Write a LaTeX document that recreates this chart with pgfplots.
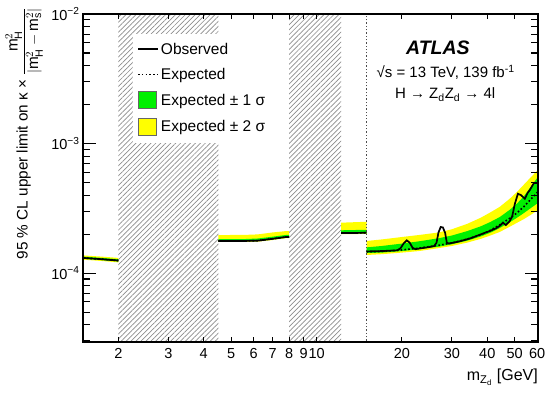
\documentclass[border=0pt]{standalone}
\usepackage{fontspec}
\setmainfont{Liberation Sans}
\usepackage{amsmath}
\usepackage{pgfplots}
\pgfplotsset{compat=1.18}
\usepackage{pgfplotstable}
\usepgfplotslibrary{fillbetween}
\usetikzlibrary{patterns.meta}

\definecolor{rgreen}{RGB}{0,240,0}
\definecolor{ryellow}{RGB}{255,255,0}

\pgfplotsset{
  mylinelegend/.style={legend image code/.code={\draw[##1] (0pt,0pt) -- (20pt,0pt);}},
  myboxlegend/.style={legend image code/.code={\draw[##1] (0pt,-8.5pt) rectangle (18pt,8.5pt);}},
}

\pgfplotstableread{
x lo2 lo1 exp hi1 hi2
1.5 1.27e-4 1.29e-4 1.31e-4 1.34e-4 1.37e-4
1.75 1.24e-4 1.26e-4 1.28e-4 1.31e-4 1.34e-4
2.0 1.21e-4 1.23e-4 1.25e-4 1.28e-4 1.31e-4
}\segA

\pgfplotstableread{
x lo2 lo1 exp hi1 hi2
4.5 1.74e-4 1.76e-4 1.77e-4 1.83e-4 1.96e-4
5.0 1.74e-4 1.76e-4 1.77e-4 1.83e-4 1.97e-4
5.5 1.74e-4 1.76e-4 1.77e-4 1.83e-4 1.97e-4
6.2 1.75e-4 1.77e-4 1.78e-4 1.85e-4 1.99e-4
7.0 1.80e-4 1.82e-4 1.84e-4 1.91e-4 2.06e-4
7.8 1.86e-4 1.88e-4 1.90e-4 1.97e-4 2.11e-4
8.0 1.86e-4 1.88e-4 1.90e-4 1.97e-4 2.11e-4
}\segB

\pgfplotstableread{
x lo2 lo1 exp hi1 hi2
12.2 2.00e-4 2.02e-4 2.04e-4 2.14e-4 2.45e-4
13.5 2.00e-4 2.02e-4 2.04e-4 2.15e-4 2.47e-4
15.0 2.01e-4 2.03e-4 2.05e-4 2.16e-4 2.49e-4
}\segC

\pgfplotstableread{
x lo2 lo1 exp hi1 hi2
15.0 1.38e-4 1.43e-4 1.46e-4 1.58e-4 1.77e-4
17.0 1.40e-4 1.44e-4 1.47e-4 1.62e-4 1.82e-4
20.0 1.44e-4 1.48e-4 1.51e-4 1.69e-4 1.90e-4
23.0 1.48e-4 1.53e-4 1.56e-4 1.76e-4 1.97e-4
27.0 1.56e-4 1.60e-4 1.64e-4 1.86e-4 2.06e-4
30.0 1.62e-4 1.67e-4 1.71e-4 1.95e-4 2.18e-4
34.0 1.72e-4 1.78e-4 1.83e-4 2.11e-4 2.40e-4
38.0 1.84e-4 1.92e-4 1.98e-4 2.30e-4 2.68e-4
41.0 1.95e-4 2.05e-4 2.14e-4 2.48e-4 2.94e-4
44.3 2.08e-4 2.23e-4 2.36e-4 2.71e-4 3.25e-4
48.0 2.28e-4 2.47e-4 2.65e-4 3.08e-4 3.75e-4
51.0 2.45e-4 2.68e-4 2.92e-4 3.45e-4 4.25e-4
54.0 2.62e-4 2.92e-4 3.28e-4 3.95e-4 4.85e-4
57.0 2.82e-4 3.18e-4 3.72e-4 4.65e-4 5.50e-4
60.4 3.07e-4 3.48e-4 4.24e-4 5.53e-4 6.26e-4
}\segD

\pgfplotstableread{
x obs
15.0 1.47e-4
17.0 1.48e-4
19.3 1.50e-4
19.8 1.56e-4
20.3 1.70e-4
20.8 1.79e-4
21.3 1.72e-4
21.8 1.57e-4
22.3 1.53e-4
25.0 1.59e-4
26.0 1.62e-4
26.5 1.72e-4
26.9 2.05e-4
27.4 2.27e-4
27.9 2.25e-4
28.4 2.05e-4
28.8 1.72e-4
29.3 1.69e-4
32.0 1.76e-4
35.0 1.86e-4
38.6 2.02e-4
41.0 2.12e-4
43.0 2.22e-4
44.3 2.32e-4
45.4 2.45e-4
46.5 2.35e-4
48.0 2.52e-4
49.0 2.75e-4
50.0 3.40e-4
51.3 4.10e-4
52.6 4.00e-4
54.3 3.75e-4
55.5 4.15e-4
56.6 4.40e-4
58.4 4.95e-4
60.4 4.95e-4
}\obsD

\tikzset{
  obsstyle/.style={black, line width=1.7pt},
  expstyle/.style={black, line width=1.6pt, dash pattern=on 1.6pt off 2.2pt},
}

\newcommand\drawbands[2]{%
  \addplot[draw=none, name path=#2lotwo, forget plot] table[x=x,y=lo2]{#1};
  \addplot[draw=none, name path=#2hitwo, forget plot] table[x=x,y=hi2]{#1};
  \addplot[draw=none, name path=#2loone, forget plot] table[x=x,y=lo1]{#1};
  \addplot[draw=none, name path=#2hione, forget plot] table[x=x,y=hi1]{#1};
  \addplot[fill=ryellow, draw=none, forget plot] fill between[of=#2lotwo and #2hitwo];
  \addplot[fill=rgreen, draw=none, forget plot] fill between[of=#2loone and #2hione];
}

\begin{document}
\begin{tikzpicture}
\begin{loglogaxis}[
  name=ax,
  scale only axis,
  width=455pt, height=328pt,
  xmin=1.5, xmax=60.4,
  ymin=2.94e-5, ymax=1e-2,
  axis on top,
  axis line style={line width=1.5pt},
  tick style={black, line width=1.1pt},
  major tick length=13pt,
  minor tick length=7pt,
  xtick style={/pgfplots/major tick length=5.5pt},
  xtick={2,3,4,5,6,7,8,9,20,30,40,50,60},
  xticklabels={2,3,4,5,6,7,8,9,20,30,40,50,60},
  extra x ticks={10},
  extra x tick labels={10},
  extra x tick style={/pgfplots/major tick length=11pt},
  minor xtick={},
  ytick={1e-4,1e-3,1e-2},
  yticklabels={10\textsuperscript{−4},10\textsuperscript{−3},10\textsuperscript{−2}},
  minor ytick={3e-5,4e-5,5e-5,6e-5,7e-5,8e-5,9e-5,2e-4,3e-4,4e-4,5e-4,6e-4,7e-4,8e-4,9e-4,2e-3,3e-3,4e-3,5e-3,6e-3,7e-3,8e-3,9e-3},
  tick label style={font=\fontsize{14.5}{16}\selectfont},
  xticklabel style={yshift=-3pt},
  xlabel={m\textsubscript{Z\textsubscript{d}} [GeV]},
  every axis x label/.style={at={(rel axis cs:1,0)}, anchor=north east, inner sep=0pt, yshift=-27pt, font=\fontsize{16}{18}\selectfont},
  ylabel={95 \% CL upper limit on κ × $\dfrac{\text{m}^{2}_{\text{H}}}{|\text{m}^{2}_{\text{H}} - \text{m}^{2}_{\text{s}}|}$},
  every axis y label/.style={at={(rel axis cs:0,0.636)}, xshift=-40pt, rotate=90, anchor=south, inner sep=0pt, font=\fontsize{15.3}{17}\selectfont},
  legend style={at={(rel axis cs:0.11,0.94)}, anchor=north west, draw=none, fill=white,
    font=\fontsize{15.5}{18}\selectfont, row sep=8.5pt, inner xsep=4pt, inner ysep=7pt},
  legend cell align=left,
]
% hatched excluded regions
\addplot[draw=none, pattern={Lines[angle=45,distance=3.5pt,line width=0.7pt]}, pattern color=black!45, forget plot]
  coordinates {(2,2e-5) (4.5,2e-5) (4.5,2e-2) (2,2e-2)} -- cycle;
\addplot[draw=none, pattern={Lines[angle=45,distance=3.5pt,line width=0.7pt]}, pattern color=black!45, forget plot]
  coordinates {(8,2e-5) (12.2,2e-5) (12.2,2e-2) (8,2e-2)} -- cycle;

\drawbands{\segA}{A}
\drawbands{\segB}{B}
\drawbands{\segC}{C}
\drawbands{\segD}{D}

% observed
\addplot[obsstyle, forget plot] table[x=x,y=exp]{\segA};
\addplot[obsstyle, forget plot] table[x=x,y=exp]{\segB};
\addplot[obsstyle, forget plot] table[x=x,y=exp]{\segC};
\addplot[obsstyle, forget plot] table[x=x,y=obs]{\obsD};
% expected
\addplot[expstyle, forget plot] table[x=x,y=exp]{\segA};
\addplot[expstyle, forget plot] table[x=x,y=exp]{\segB};
\addplot[expstyle, forget plot] table[x=x,y=exp]{\segC};
\addplot[expstyle, forget plot] table[x=x,y=exp]{\segD};

% vertical boundary at 15 GeV
\addplot[black!70, line width=1.4pt, dash pattern=on 1.3pt off 2pt, forget plot]
  coordinates {(15,2e-5) (15,2e-2)};

\addlegendimage{obsstyle, mylinelegend}
\addlegendentry{Observed}
\addlegendimage{expstyle, mylinelegend}
\addlegendentry{Expected}
\addlegendimage{fill=rgreen, draw=black!60, line width=0.9pt, myboxlegend}
\addlegendentry{Expected ± 1 σ}
\addlegendimage{fill=ryellow, draw=black!60, line width=0.9pt, myboxlegend}
\addlegendentry{Expected ± 2 σ}

\node[font=\fontsize{19.5}{22}\selectfont\bfseries\itshape] at (rel axis cs:0.78,0.896) {ATLAS};
\node[font=\fontsize{15}{18}\selectfont] at (rel axis cs:0.797,0.823) {√s = 13 TeV, 139 fb\textsuperscript{-1}};
\node[font=\fontsize{15}{18}\selectfont] at (rel axis cs:0.796,0.755) {H → Z\textsubscript{d}Z\textsubscript{d} → 4l};
\end{loglogaxis}
\pgfresetboundingbox
\path (ax.south west) ++(-83pt,-56pt) rectangle ++(550pt,398pt);
\end{tikzpicture}
\end{document}
